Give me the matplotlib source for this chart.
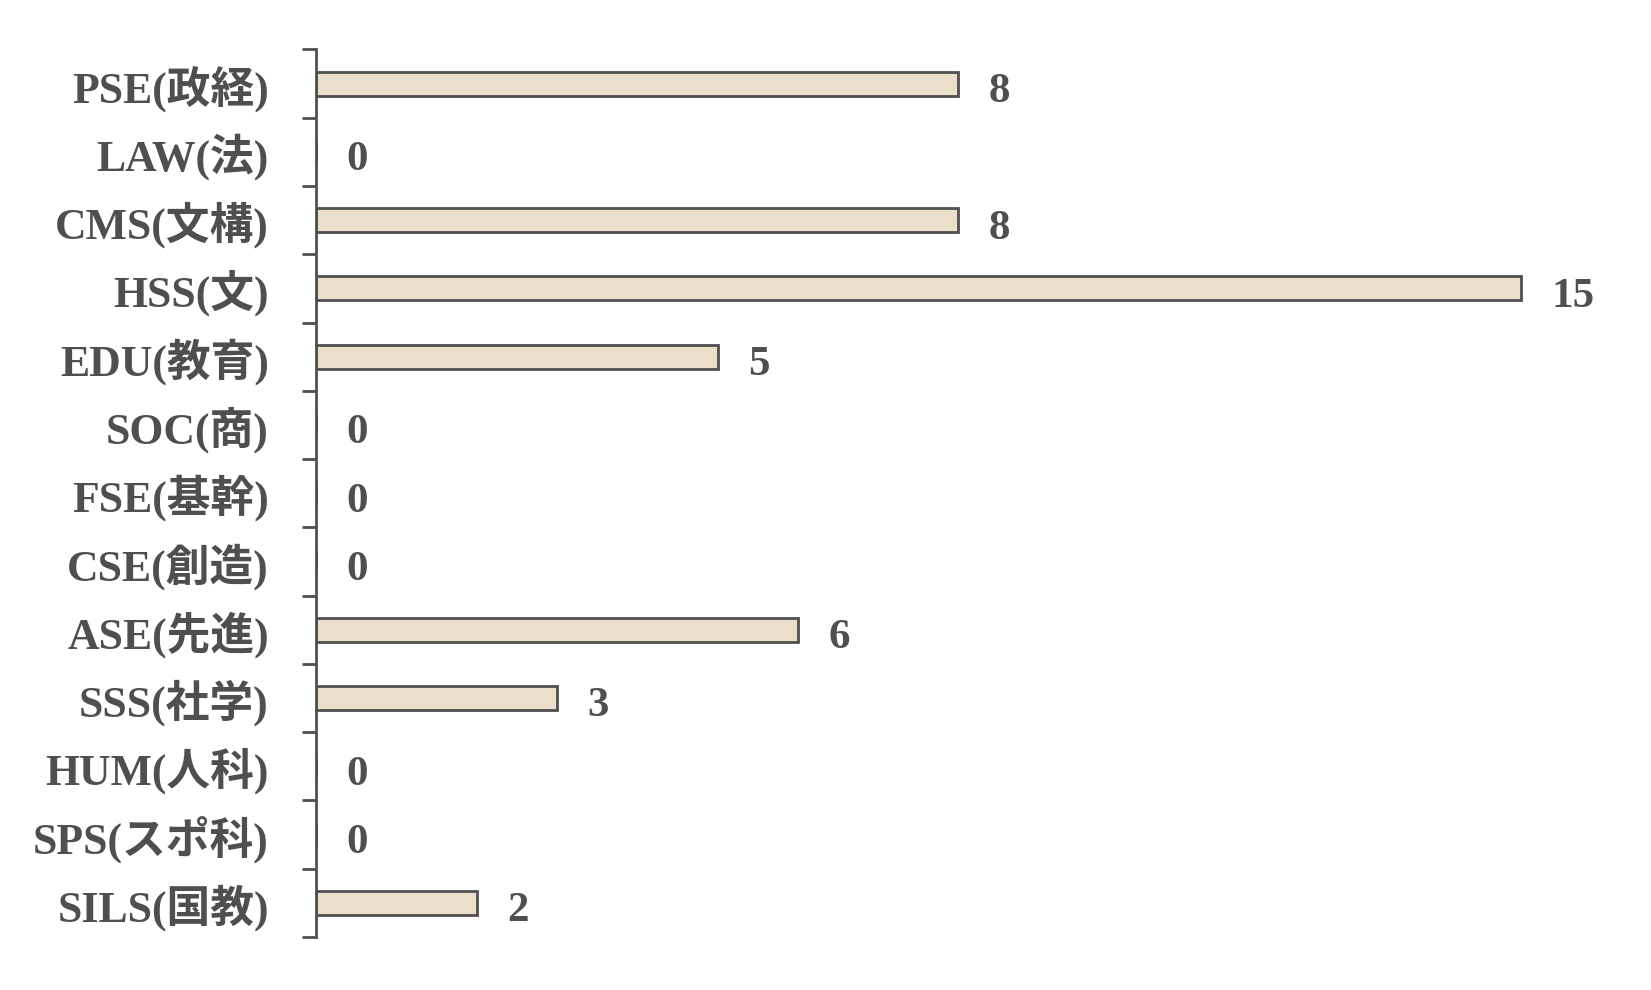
import matplotlib.pyplot as plt
import numpy as np

plt.rcParams['font.family'] = ['Liberation Serif', 'Noto Sans CJK JP', 'DejaVu Sans']

categories = ['PSE(政経)', 'LAW(法)', 'CMS(文構)', 'HSS(文)', 'EDU(教育)', 'SOC(商)',
              'FSE(基幹)', 'CSE(創造)', 'ASE(先進)', 'SSS(社学)', 'HUM(人科)',
              'SPS(スポ科)', 'SILS(国教)']
counts = [8, 0, 8, 15, 5, 0, 0, 0, 6, 3, 0, 0, 2]

grey = '#4f4f4f'
fill = '#ebdfcb'

fig = plt.figure(figsize=(16.51, 9.9), dpi=100)
ax = fig.add_axes([316 / 1651, 1 - 937 / 990, 1 - 316 / 1651, (937 - 49.5) / 990])

y = np.arange(len(categories))
ax.barh(y, counts, height=0.35, color=fill, edgecolor=grey, linewidth=2)

# value labels right of each bar
for yi, c in zip(y, counts):
    ax.annotate(str(c), (c, yi), xytext=(22, -6), textcoords='offset points',
                va='center', ha='left', fontsize=31, fontweight='bold', color=grey)

ax.set_xlim(0, (1651 - 316) / 80.3)
ax.set_ylim(len(categories) - 0.5, -0.5)

ax.set_yticks(y)
ax.set_yticklabels(categories, fontsize=31.5, fontweight='bold', color=grey)
ax.set_yticks(np.arange(len(categories) + 1) - 0.5, minor=True)
ax.tick_params(axis='y', which='major', length=0, pad=34)
ax.tick_params(axis='y', which='minor', length=10, width=2, color=grey)
ax.set_xticks([])

for s in ['top', 'right', 'bottom']:
    ax.spines[s].set_visible(False)
ax.spines['left'].set_color(grey)
ax.spines['left'].set_linewidth(2)

fig.savefig('out.png', dpi=100)
